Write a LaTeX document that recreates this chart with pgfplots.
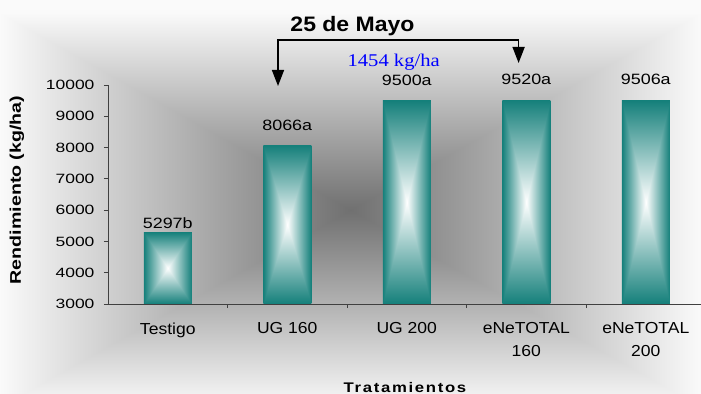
\documentclass[border=0pt]{standalone}
\usepackage{fontspec}
\setmainfont{Liberation Sans}
\usepackage{pgfplots}
\pgfplotsset{compat=1.18}
\usetikzlibrary{arrows.meta}
\newfontfamily\tickfont[FakeStretch=1.3]{Liberation Sans}
\newfontfamily\barfont[FakeStretch=1.2]{Liberation Sans}
\newfontfamily\xfont[FakeStretch=1.1]{Liberation Sans}
\newfontfamily\ylabfont[FakeStretch=1.27]{Liberation Sans}
\newfontfamily\xlabfont[FakeStretch=1.2,LetterSpace=12]{Liberation Sans}
\newfontfamily\titlefont[FakeStretch=1.1]{Liberation Sans}
\newfontfamily\serifb[FakeStretch=1.15]{Liberation Serif}
\definecolor{tealc}{RGB}{22,128,124}
\pgfdeclarefunctionalshading{barbox}{\pgfpoint{-50bp}{-50bp}}{\pgfpoint{50bp}{50bp}}{}{
  abs exch abs 2 copy lt {exch} if pop 25 div
  dup 1 gt {pop 1} if
  dup 0.92 mul 1 exch sub exch
  dup 0.50 mul 1 exch sub exch
  0.52 mul 1 exch sub
}
\pgfdeclarefunctionalshading{bgfun}{\pgfpoint{-50bp}{-50bp}}{\pgfpoint{50bp}{50bp}}{}{
  1.65 add abs exch abs 2 copy lt {exch} if pop 25 div
  dup 1 gt {pop 1} if
  0.54 mul 0.44 add dup dup
}
\pgfplotsset{tbar/.style={ybar, bar shift=0pt, draw=none, shade, shading=barbox}}
\begin{document}
\begin{tikzpicture}
\path[use as bounding box] (0,0) rectangle (701bp,394bp);
\shade[shading=bgfun] (0,0) rectangle (701bp,394bp);
\begin{axis}[
  at={(108bp,90bp)}, anchor=south west,
  scale only axis, width=593bp, height=219bp,
  xmin=-0.5, xmax=4.462, ymin=0, ymax=7000,
  y filter/.expression={y-3000},
  ybar, bar width=48bp,
  axis x line*=bottom, axis y line*=left,
  axis line style={black!75, line width=0.8bp},
  ytick={0,1000,...,7000},
  yticklabels={3000,4000,5000,6000,7000,8000,9000,10000},
  xtick={0,1,2,3,4},
  xticklabels={Testigo, UG 160, UG 200, {eNeTOTAL\\160}, {eNeTOTAL\\200}},
  minor xtick={0.5,1.5,2.5,3.5},
  major x tick style={draw=none},
  tick align=outside,
  major tick length=4bp, minor tick length=4bp,
  tick style={black!75, line width=0.8bp},
  yticklabel style={font=\tickfont\fontsize{13.5}{14}\selectfont, xshift=-6bp},
  xticklabel style={font=\xfont\fontsize{16}{23}\selectfont, align=center, yshift=-11bp},
  clip=false,
]
\addplot[tbar] coordinates {(0,5297)};
\addplot[tbar] coordinates {(1,8066)};
\addplot[tbar] coordinates {(2,9500)};
\addplot[tbar] coordinates {(3,9520)};
\addplot[tbar] coordinates {(4,9506)};
\addplot[ybar, bar shift=0pt, draw=none, fill=none, nodes near coords, point meta=explicit symbolic,
  nodes near coords style={anchor=base, yshift=4bp, font=\barfont\fontsize{15}{16}\selectfont, text=black}]
  coordinates {(0,5297) [5297b]};
\addplot[ybar, bar shift=0pt, draw=none, fill=none, nodes near coords, point meta=explicit symbolic,
  nodes near coords style={anchor=base, yshift=15.5bp, font=\barfont\fontsize{15}{16}\selectfont, text=black}]
  coordinates {(1,8066) [8066a] (2,9500) [9500a] (3,9520) [9520a] (4,9506) [9506a]};
\end{axis}
\node[anchor=base, font=\titlefont\bfseries\fontsize{21}{22}\selectfont] at (352.5bp,362bp) {25 de Mayo};
\draw[line width=1.5bp, -{Triangle[width=12bp,length=16bp]}] (278bp,354bp) -- (278bp,308bp);
\draw[line width=1.5bp, -{Triangle[width=12bp,length=16bp]}] (277.25bp,354bp) -- (518.6bp,354bp) -- (518.6bp,331bp);
\node[anchor=base, text={rgb,255:red,0;green,0;blue,255}, font=\serifb\fontsize{18}{19}\selectfont] at (393.7bp,327bp) {1454 kg/ha};
\node[rotate=90, font=\ylabfont\bfseries\fontsize{15.5}{16}\selectfont] at (17bp,204bp) {Rendimiento (kg/ha)};
\node[anchor=base, font=\xlabfont\bfseries\fontsize{14}{15}\selectfont] at (405bp,2bp) {Tratamientos};
\end{tikzpicture}
\end{document}
